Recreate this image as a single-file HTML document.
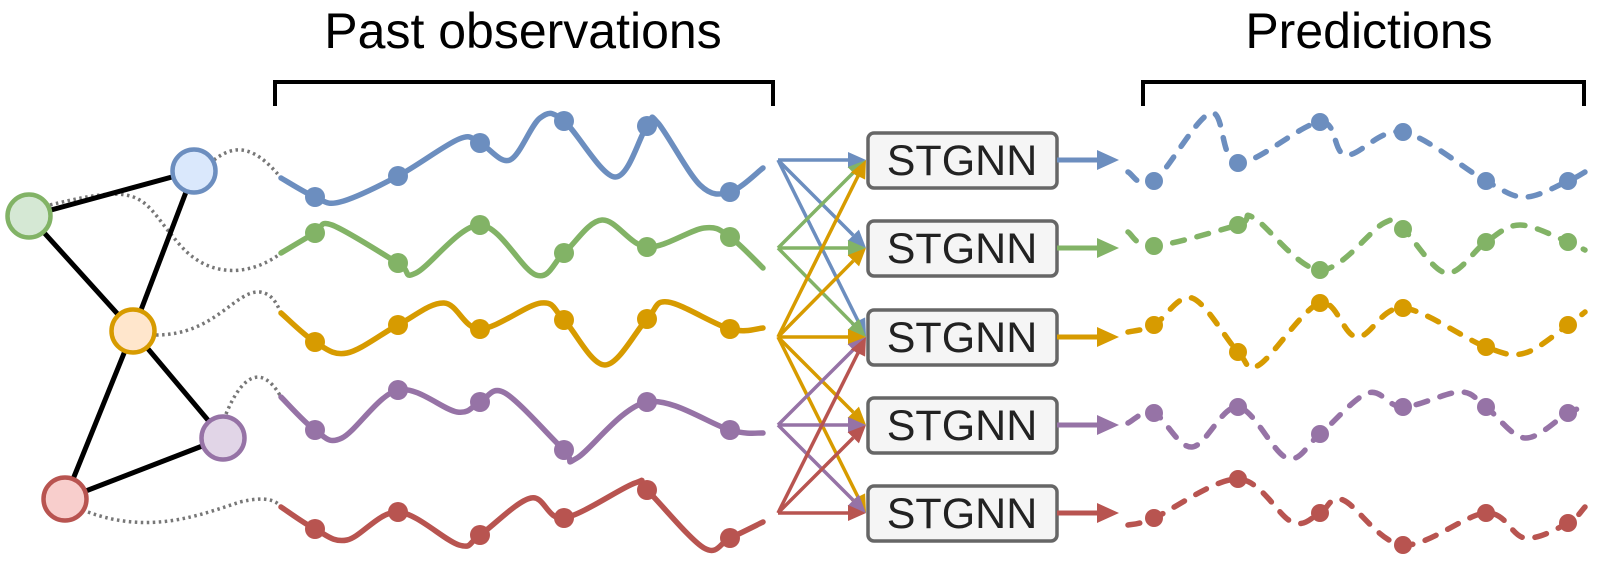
<!DOCTYPE html>
<html><head><meta charset="utf-8"><style>
html,body{margin:0;padding:0;background:#fff;}
svg{display:block;}
text{font-family:"Liberation Sans",sans-serif;}
</style></head><body>
<svg id="fig" width="1600" height="571" viewBox="0 0 1600 571" xmlns="http://www.w3.org/2000/svg">
<text x="523" y="48" font-size="50" text-anchor="middle" fill="#000">Past observations</text>
<text x="1369" y="48" font-size="50" text-anchor="middle" fill="#000">Predictions</text>
<path d="M275 106 V82 H773 V106" fill="none" stroke="#000" stroke-width="4"/>
<path d="M1143 106 V82 H1584 V106" fill="none" stroke="#000" stroke-width="4"/>
<g id="layer"></g>
</svg>
<script>
const names = ['blue','green','orange','purple','red'];
const strokeColors = ['#6c8ebf','#82b366','#d79b00','#9673a6','#b85450'];
const fillColors = ['#dae8fc','#d5e8d4','#ffe6cc','#e1d5e7','#f8cecc'];
const nodeX = [194,29,133,223,65];
const nodeY = [171,216,331,438,499];
const edges = [[0,1],[0,2],[1,2],[2,3],[2,4],[4,3]];
const pastX = [281,315,340,398,459,480,510,540,564,615,647,658,700,730,763];
const pastObs = [0,1,0,1,0,1,0,0,1,0,1,0,0,1,0];
const pastBlue   = [178,197,202,176,139,143,160,118,121,177,126,123,185,192,168];
const pastGreenX = [281,315,332,398,416,480,536,564,602,647,704,730,763];
const pastGreenObs=[0,1,0,1,0,1,0,1,0,1,0,1,0];
const pastGreen  = [253,233,225,263,273,225,275,253,220,247,228,237,268];
const pastStdX = [281,315,347,398,444,480,541,564,605,647,668,730,763];
const pastStdObs = [0,1,0,1,0,1,0,1,0,1,0,1,0];
const pastOrange = [313,342,353,325,303,329,303,320,365,319,302,329,328];
const pastPurpleX= [281,315,342,398,457,480,505,564,577,647,730,763];
const pastPurpleObs=[0,1,0,1,0,1,0,1,0,1,1,0];
const pastPurple = [397,430,438,390,412,402,393,450,458,402,430,433];
const pastRedX = [281,315,347,398,459,480,531,564,635,647,704,730,763];
const pastRedObs = [0,1,0,1,0,1,0,1,0,1,0,1,0];
const pastRed    = [507,529,540,512,545,535,498,518,483,490,548,538,522];
const predBlueX = [1128,1154,1211,1238,1320,1346,1403,1486,1525,1568,1585];
const predBlueObs=[0,1,0,1,1,0,1,1,0,1,0];
const predBlue  = [172,181,113,163,122,155,132,181,197,181,172];
const predGreenX= [1128,1154,1238,1254,1320,1384,1403,1446,1486,1520,1568,1585];
const predGreenObs=[0,1,1,0,1,0,1,0,1,0,1,0];
const predGreen = [232,246,225,218,270,223,229,273,242,225,242,250];
const predOrangeX=[1128,1154,1192,1238,1259,1320,1357,1403,1486,1525,1568,1585];
const predOrangeObs=[0,1,0,1,0,1,0,1,1,0,1,0];
const predOrange= [332,325,298,352,365,303,337,308,347,353,325,312];
const predPurpleX=[1128,1154,1192,1238,1287,1320,1368,1403,1460,1486,1525,1568,1585];
const predPurpleObs=[0,1,0,1,0,1,0,1,0,1,0,1,0];
const predPurple= [423,413,447,407,458,434,393,407,392,407,438,413,407];
const predRedX  = [1128,1154,1238,1292,1320,1343,1403,1486,1525,1568,1585];
const predRedObs= [0,1,1,0,1,0,1,1,0,1,0];
const predRed   = [525,518,479,522,513,500,545,513,538,523,507];
const boxY = [160,248,337,425,513];

const NS='http://www.w3.org/2000/svg';
const layer=document.getElementById('layer');
function mk(tag,attrs,parent){const e=document.createElementNS(NS,tag);for(const k in attrs)e.setAttribute(k,attrs[k]);(parent||layer).appendChild(e);return e;}
function smooth(xs,ys){let d='M'+xs[0]+' '+ys[0];for(let i=0;i<xs.length-1;i++){const x0=xs[Math.max(0,i-1)],y0=ys[Math.max(0,i-1)],x1=xs[i],y1=ys[i],x2=xs[i+1],y2=ys[i+1],x3=xs[Math.min(xs.length-1,i+2)],y3=ys[Math.min(xs.length-1,i+2)];const t=6;d+=` C${x1+(x2-x0)/t} ${y1+(y2-y0)/t} ${x2-(x3-x1)/t} ${y2-(y3-y1)/t} ${x2} ${y2}`;}return d;}

const conn=['M214 160 C232 146 252 142 281 178','M50 205 C150 180 140 200 180 245 C215 285 260 270 281 253','M156 335 C215 335 235 290 260 292 C272 294 276 302 281 313','M226 414 C240 380 260 360 281 397','M88 512 C150 535 200 515 240 502 C265 496 276 500 281 507'];
conn.forEach((d,i)=>{const p=mk('path',{d:d,fill:'none',stroke:'#777','stroke-width':3.5,'stroke-dasharray':'2.5 3.5'});

});

edges.forEach(([a,b])=>{const l=mk('line',{x1:nodeX[a],y1:nodeY[a],x2:nodeX[b],y2:nodeY[b],stroke:'#000','stroke-width':5});

});
names.forEach((n,i)=>{const c=mk('circle',{cx:nodeX[i],cy:nodeY[i],r:21.5,fill:fillColors[i],stroke:strokeColors[i],'stroke-width':4.5});

});

function series(xs,ys,obs,i,kind){const g=mk('g',{});


const attrs={d:smooth(xs,ys),fill:'none',stroke:strokeColors[i],'stroke-width':5.5,'stroke-linecap':'round'};
if(kind==='pred')attrs['stroke-dasharray']='12 13';
const p=mk('path',attrs,g);


xs.forEach((x,k)=>{if(!obs[k])return;const c=mk('circle',{cx:x,cy:ys[k],r:kind==='past'?10:9,fill:strokeColors[i]},g);

});}
series(pastX,pastBlue,pastObs,0,'past');
series(pastGreenX,pastGreen,pastGreenObs,1,'past');
series(pastStdX,pastOrange,pastStdObs,2,'past');
series(pastPurpleX,pastPurple,pastPurpleObs,3,'past');
series(pastRedX,pastRed,pastRedObs,4,'past');
series(predBlueX,predBlue,predBlueObs,0,'pred');
series(predGreenX,predGreen,predGreenObs,1,'pred');
series(predOrangeX,predOrange,predOrangeObs,2,'pred');
series(predPurpleX,predPurple,predPurpleObs,3,'pred');
series(predRedX,predRed,predRedObs,4,'pred');

function arrow(x1,y1,x2,y2,col,w,hl,hw){const a=Math.atan2(y2-y1,x2-x1);const bx=x2-hl*Math.cos(a),by=y2-hl*Math.sin(a);
const g=mk('g',{});
mk('line',{x1:x1,y1:y1,x2:bx,y2:by,stroke:col,'stroke-width':w},g);
const px=-Math.sin(a)*hw/2,py=Math.cos(a)*hw/2;
mk('polygon',{points:`${x2},${y2} ${bx+px},${by+py} ${bx-px},${by-py}`,fill:col},g);return g;}
const fanX=778, boxL=866;
const targets=[[0,1,2],[0,1,2],[0,1,2,3,4],[2,3,4],[2,3,4]];
targets.forEach((ts,i)=>{ts.forEach(t=>{const g=arrow(fanX,boxY[i],boxL,boxY[t],strokeColors[i],3.5,18,16);

});});
boxY.forEach((y,i)=>{const g=mk('g',{});


mk('rect',{x:868,y:y-27,width:189,height:55,rx:6,fill:'#f5f5f5',stroke:'#666','stroke-width':3.5},g);
const t=mk('text',{x:962,y:y+15,'font-size':43,'text-anchor':'middle',fill:'#222'},g);t.textContent='STGNN';
const a=arrow(1057,y,1119,y,strokeColors[i],5,22,20);

});
</script>
</body></html>
